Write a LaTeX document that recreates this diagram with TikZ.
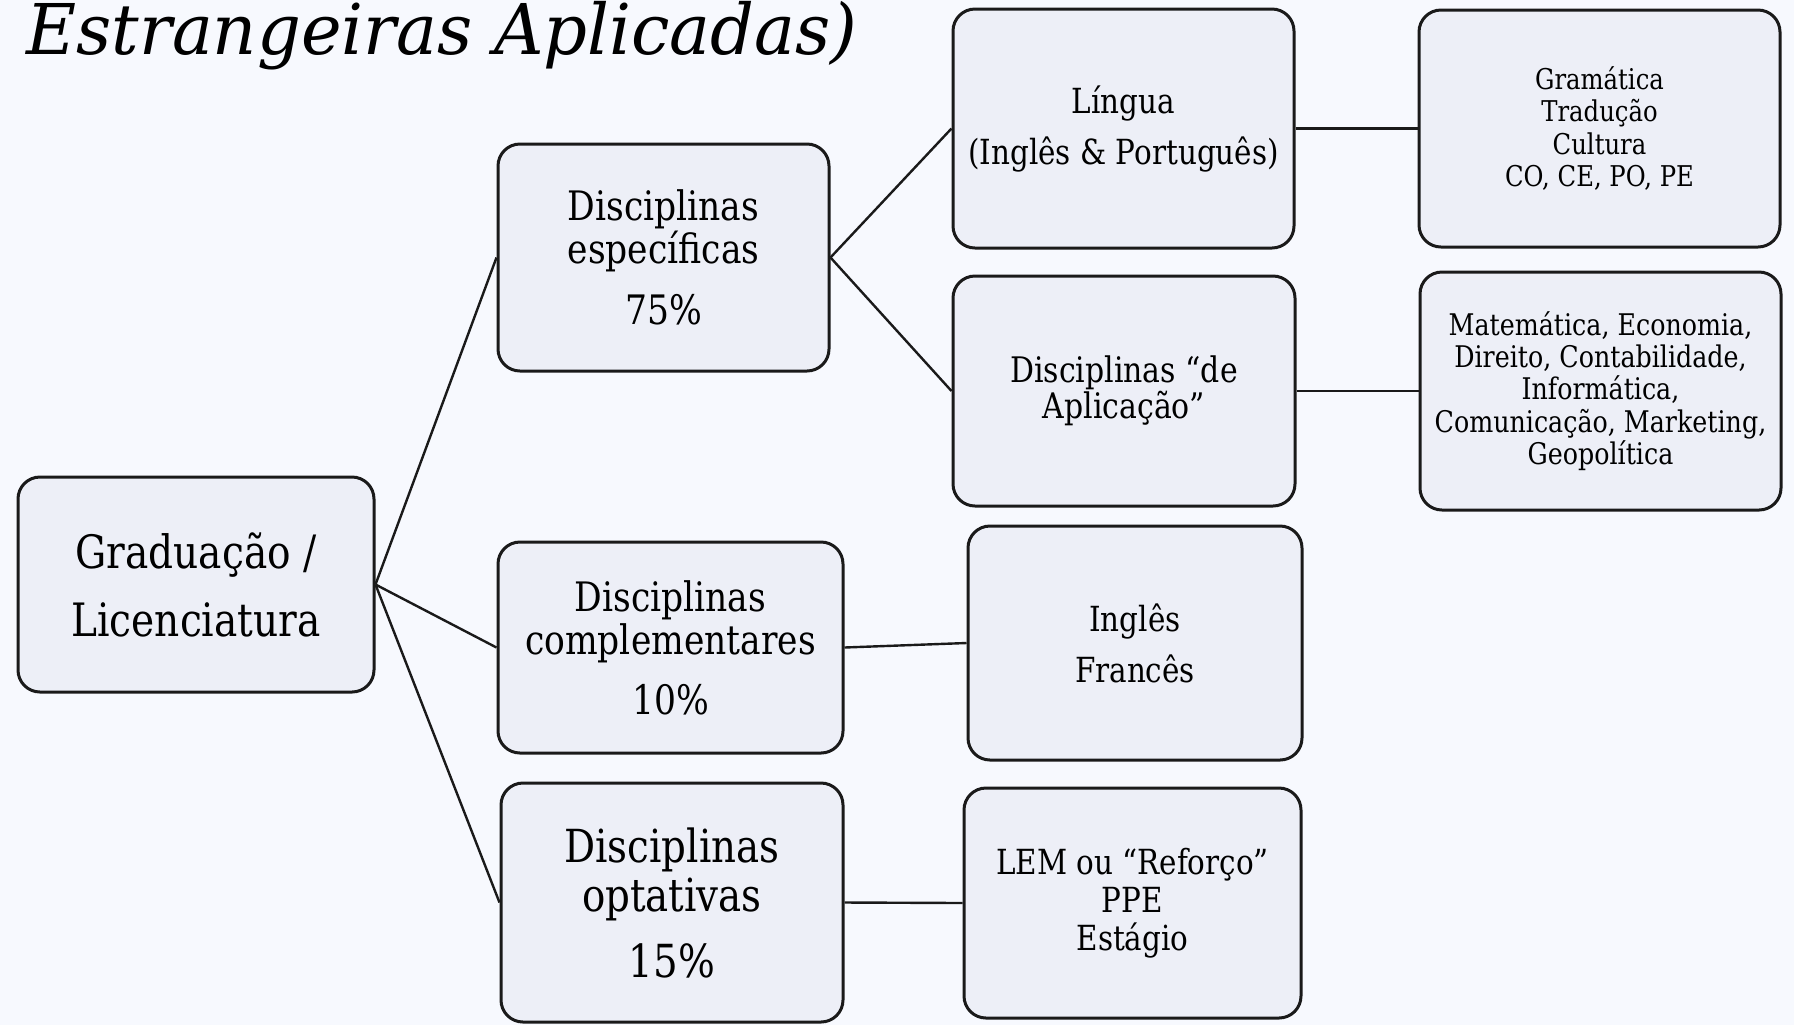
\documentclass[tikz,border=0pt]{standalone}
\usepackage{fontspec}
\setmainfont{DejaVu Serif}[FakeStretch=0.85]
\newfontfamily\titlefont{DejaVu Serif}[FakeStretch=0.98]
\definecolor{bgcol}{HTML}{F7F9FE}
\definecolor{boxfill}{HTML}{EDEFF7}
\definecolor{linecol}{HTML}{1A1A1A}
\tikzset{
  box/.style={draw=linecol, line width=1.5pt, fill=boxfill, rounded corners=11pt,
    align=center, inner sep=0pt, anchor=center, text=black},
  link/.style={draw=linecol, line width=1.2pt},
}
\begin{document}
\begin{tikzpicture}[x=0.5pt,y=-0.5pt]
\fill[bgcol] (0,0) rectangle (1794,1025);
\useasboundingbox (0,0) rectangle (1794,1025);

\node[anchor=base west, inner sep=0pt, font={\titlefont\itshape\fontsize{35}{42}\selectfont}] (title) at (26,54) {Estrangeiras Aplicadas)};

\node[box, minimum width=178pt, minimum height=107.5pt, font={\fontsize{23}{34}\selectfont}] (A) at (196,584.5) {Graduação /\\Licenciatura};

\node[box, minimum width=165.5pt, minimum height=113.5pt, font={\fontsize{20.3}{21.5}\selectfont}] (B) at (663.5,257.5) {Disciplinas\\específicas\\[9pt]75\%};
\node[box, minimum width=172.5pt, minimum height=105.5pt, font={\fontsize{20.3}{21.5}\selectfont}] (C) at (670.5,647.5) {Disciplinas\\complementares\\[8.5pt]10\%};
\node[box, minimum width=171pt, minimum height=119.5pt, font={\fontsize{22.8}{24.5}\selectfont}] (D) at (672,902.5) {Disciplinas\\optativas\\[8.5pt]15\%};

\node[box, minimum width=170.5pt, minimum height=119.5pt, font={\fontsize{17.3}{25.5}\selectfont}] (E) at (1123.5,128.5) {Língua\\(Inglês \& Português)};
\node[box, minimum width=171pt, minimum height=115pt, font={\fontsize{17.6}{17.8}\selectfont}] (F) at (1124,391) {Disciplinas “de\\Aplicação”};
\node[box, minimum width=167pt, minimum height=117pt, font={\fontsize{17.3}{25.5}\selectfont}] (I) at (1135,643) {Inglês\\Francês};
\node[box, minimum width=168.5pt, minimum height=115pt, font={\fontsize{17.3}{19}\selectfont}] (J) at (1132.5,903) {LEM ou “Reforço”\\PPE\\Estágio};

\node[box, minimum width=180.5pt, minimum height=118.5pt, font={\fontsize{14.3}{16.2}\selectfont}] (G) at (1599.5,128.5) {Gramática\\Tradução\\Cultura\\CO, CE, PO, PE};
\node[box, minimum width=180.5pt, minimum height=119pt, font={\fontsize{14.9}{16.1}\selectfont}] (H) at (1600.5,391) {Matemática, Economia,\\Direito, Contabilidade,\\Informática,\\Comunicação, Marketing,\\Geopolítica};

\draw[link] (A.east) -- (B.west);
\draw[link] (A.east) -- (C.west);
\draw[link] (A.east) -- (D.west);
\draw[link] (B.east) -- (E.west);
\draw[link] (B.east) -- (F.west);
\draw[link] (E.east) -- (G.west);
\draw[link] (F.east) -- (H.west);
\draw[link] (C.east) -- (I.west);
\draw[link] (D.east) -- (J.west);
\end{tikzpicture}
\end{document}
